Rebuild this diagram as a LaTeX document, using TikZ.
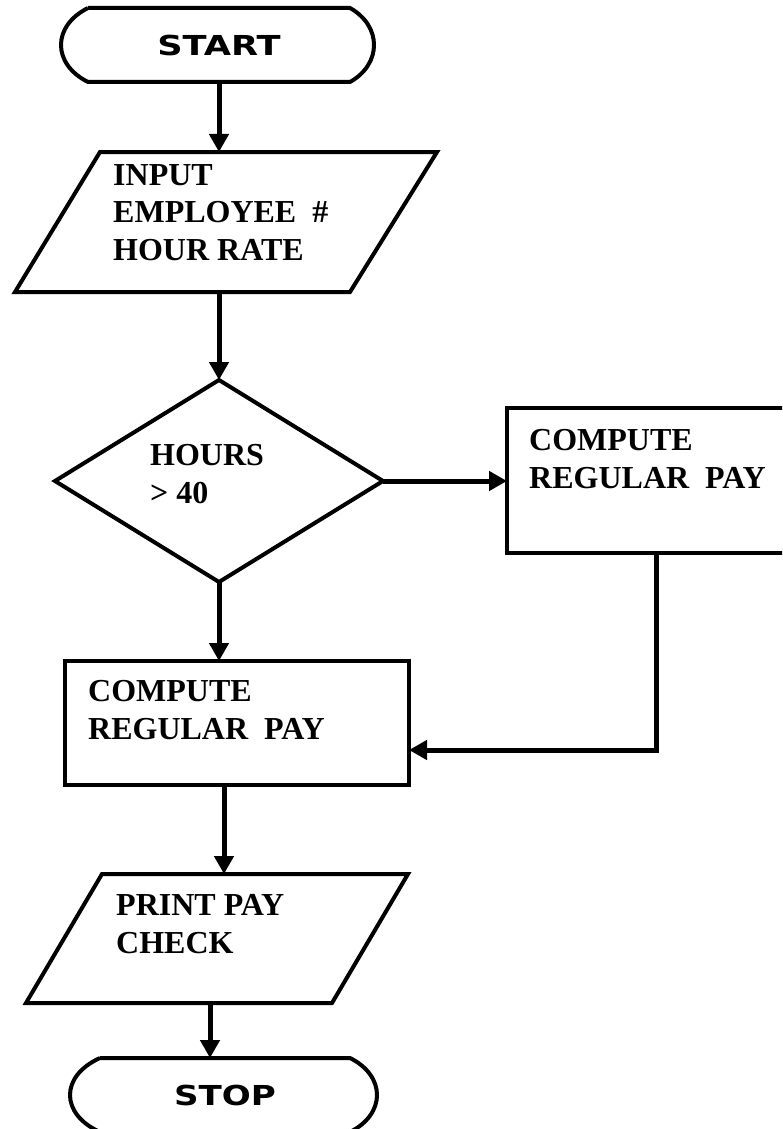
\documentclass[tikz,border=0pt]{standalone}
\usepackage{fontspec}
\setmainfont{Liberation Serif}
\newfontfamily\termfont{DejaVu Sans}
\usetikzlibrary{shapes,arrows.meta,positioning,calc}

\tikzset{
    flowline/.style={line width=4pt, line join=miter},
    flowbox/.style={draw, line width=4pt, rectangle, inner sep=0pt, outer sep=0pt},
    flowdec/.style={draw, line width=4pt, diamond, inner sep=0pt, outer sep=0pt},
    flowterm/.style={inner sep=0pt, outer sep=0pt, font=\termfont\fontsize{27.5}{30}\selectfont\bfseries},
    flowtext/.style={anchor=base west, align=left, inner sep=0pt, font=\fontsize{32}{37.5}\selectfont\bfseries},
    flowarrow/.style={line width=5pt, -{Triangle[length=18pt,width=19pt]}},
}

\begin{document}
\begin{tikzpicture}[x=1pt, y=-1pt]
    \useasboundingbox (0,0) rectangle (782,1129);
    \clip (0,0) rectangle (782,1129);

    % Start
    \node [flowterm, minimum width=262pt, minimum height=74pt] (start) at (219,45) {\scalebox{1.28}[1]{START}};
    \draw [flowline] (start.north west) -- (start.north east)
        .. controls +(32,18) and +(32,-18) .. (start.south east) -- (start.south west)
        .. controls +(-36,-18) and +(-36,18) .. (start.north west);

    % Input
    \draw [flowline] (100,152) -- (437,152) -- (350,292) -- (15,292) -- cycle;
    \coordinate (inputtop) at (219,152);
    \coordinate (inputbot) at (219,292);
    \node [flowtext] (inputtxt) at (113,260) {INPUT\\EMPLOYEE\ \ \#\\HOUR RATE};

    % Decision
    \node [flowdec, minimum width=328pt, minimum height=202pt] (hours) at (219,481) {};
    \node [flowtext] (hourstxt) at (150,503) {HOURS\\> 40};

    % Compute boxes
    \node [flowbox, minimum width=293pt, minimum height=145pt] (regpay) at (653.5,480.5) {};
    \node [flowtext] (regpaytxt) at (529,488) {COMPUTE\\REGULAR\ \ PAY};
    \node [flowbox, minimum width=344pt, minimum height=124pt] (pay) at (237,723) {};
    \node [flowtext] (paytxt) at (88,739) {COMPUTE\\REGULAR\ \ PAY};

    % Output
    \draw [flowline] (102,874) -- (408,874) -- (332,1003) -- (26,1003) -- cycle;
    \coordinate (printtop) at (224,874);
    \coordinate (printbot) at (210,1003);
    \node [flowtext] (printtxt) at (116,953) {PRINT PAY\\CHECK};

    % Stop
    \node [flowterm, minimum width=250pt, minimum height=74pt] (stop) at (225,1095) {\scalebox{1.24}[1]{STOP}};
    \draw [flowline] (stop.north west) -- (stop.north east)
        .. controls +(36,18) and +(36,-18) .. (stop.south east) -- (stop.south west)
        .. controls +(-40,-18) and +(-40,18) .. (stop.north west);

    % Arrows
    \draw [flowarrow] (start.south) -- (inputtop);
    \draw [flowarrow] (inputbot) -- (hours.north);
    \draw [flowarrow] (hours.east) -- (hours.east -| regpay.west);
    \draw [flowarrow] (hours.south) -- (hours.south |- pay.north);
    \draw [flowarrow] ([xshift=2.5pt]regpay.south) |- ([yshift=-27pt]pay.east);
    \draw [flowarrow] (printtop |- pay.south) -- (printtop);
    \draw [flowarrow] (printbot) -- (printbot |- stop.north);
\end{tikzpicture}
\end{document}
